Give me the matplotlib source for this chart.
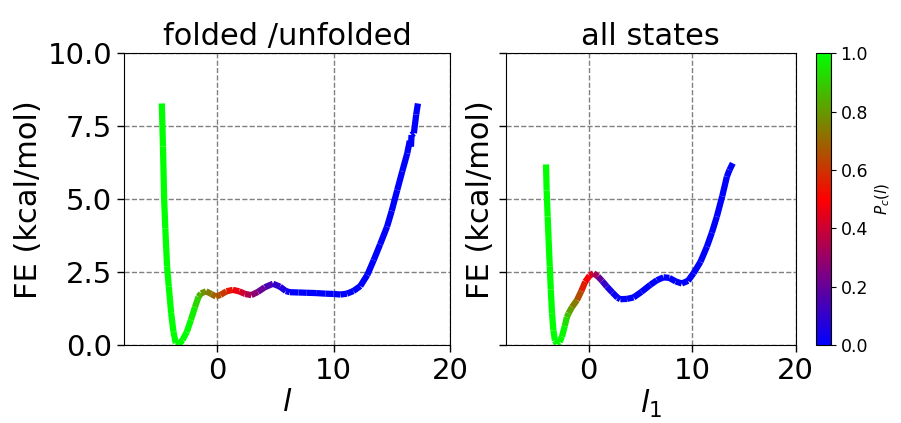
import numpy as np
import matplotlib
matplotlib.use('Agg')
from matplotlib import pyplot as plt
from matplotlib.collections import LineCollection
from matplotlib.colors import LinearSegmentedColormap, Normalize

# folded / unfolded profile: reaction coordinate, free energy, committor
left_l = [-4.75, -4.65, -4.55, -4.45, -4.3, -4.15, -3.95, -3.75, -3.55, -3.3,
          -2.97, -2.6, -2.25, -1.9, -1.6, -1.38, -0.95, -0.5, -0.1, 0.3,
          0.8, 1.35, 1.9, 2.4, 2.94, 3.5, 4.1, 4.8, 5.4, 5.9,
          6.25, 7.0, 7.7, 8.5, 9.3, 10.0, 10.6, 11.15, 11.7, 12.3,
          12.9, 13.45, 14.0, 14.6, 15.0, 15.47, 15.9, 16.33, 16.55, 16.65,
          16.7, 16.9, 17.1, 17.25]
left_fe = [8.28, 6.8, 5.0, 4.0, 2.7, 2.0, 1.1, 0.45, 0.06, 0.02,
           0.17, 0.45, 0.86, 1.3, 1.65, 1.77, 1.84, 1.75, 1.66, 1.72,
           1.84, 1.89, 1.84, 1.75, 1.71, 1.82, 1.98, 2.1, 2.0, 1.85,
           1.81, 1.8, 1.79, 1.78, 1.76, 1.75, 1.73, 1.76, 1.85, 2.02,
           2.4, 2.91, 3.45, 4.06, 4.6, 5.31, 5.95, 6.57, 7.0, 6.8,
           7.2, 7.26, 7.9, 8.28]
left_pc = [1, 1, 1, 1, 1, 1, 1, 1, 1, 1,
           1, 1, 0.98, 0.95, 0.88, 0.82, 0.76, 0.72, 0.68, 0.64,
           0.58, 0.5, 0.45, 0.38, 0.32, 0.24, 0.18, 0.12, 0.08, 0.04,
           0, 0, 0, 0, 0, 0, 0, 0, 0, 0,
           0, 0, 0, 0, 0, 0, 0, 0, 0, 0,
           0, 0, 0, 0]

# all states profile
right_l = [-4.11, -4.05, -3.95, -3.86, -3.75, -3.65, -3.53, -3.4, -3.25, -3.05,
           -2.8, -2.57, -2.3, -2.1, -1.93, -1.6, -1.12, -0.7, -0.32, 0.1,
           0.48, 0.9, 1.3, 1.77, 2.3, 2.8, 3.06, 3.7, 4.34, 5.1,
           5.95, 6.6, 7.23, 7.8, 8.4, 9.0, 9.6, 10.13, 10.8, 11.42,
           11.9, 12.38, 12.9, 13.35, 13.6, 13.92]
right_fe = [6.19, 5.3, 4.4, 3.6, 2.7, 1.9, 1.09, 0.5, 0.15, 0.04,
            0.1, 0.29, 0.65, 0.95, 1.09, 1.3, 1.54, 1.85, 2.17, 2.38,
            2.46, 2.35, 2.2, 2.0, 1.8, 1.62, 1.57, 1.58, 1.63, 1.82,
            2.06, 2.22, 2.32, 2.3, 2.18, 2.11, 2.2, 2.46, 2.85, 3.37,
            3.85, 4.4, 5.1, 5.77, 6.0, 6.23]
right_pc = [1, 1, 1, 1, 1, 1, 1, 1, 1, 1,
            1, 1, 0.97, 0.9, 0.85, 0.78, 0.7, 0.6, 0.52, 0.46,
            0.4, 0.25, 0.15, 0.07, 0.03, 0.01, 0, 0, 0, 0,
            0, 0, 0, 0, 0, 0, 0, 0, 0, 0,
            0, 0, 0, 0, 0, 0]

cmap = LinearSegmentedColormap.from_list('bgr', ['blue', 'red', 'lime'])
norm = Normalize(0, 1)


def colored_line(ax, x, y, c):
    pts = np.column_stack([x, y]).reshape(-1, 1, 2)
    segs = np.concatenate([pts[:-1], pts[1:]], axis=1)
    cvals = (np.array(c[:-1]) + np.array(c[1:])) / 2
    lc = LineCollection(segs, cmap=cmap, norm=norm, linewidth=4.5, capstyle='butt')
    lc.set_array(cvals)
    ax.add_collection(lc)
    return lc


def style_axes(ax, xlabel, title, ypad):
    ax.set_xlim(-8, 20)
    ax.set_ylim(0, 10)
    ax.set_xticks([0, 10, 20])
    ax.set_yticks([0, 2.5, 5.0, 7.5, 10.0])
    ax.grid(True, color='gray', linestyle='--', linewidth=1)
    ax.tick_params(labelsize=21, length=5, width=1)
    ax.set_xlabel(xlabel, fontsize=22, labelpad=2)
    ax.set_ylabel('FE (kcal/mol)', fontsize=22, labelpad=ypad)
    ax.set_title(title, fontsize=22)


fig = plt.figure(figsize=(9.01, 4.23), dpi=100)
ax1 = fig.add_axes([0.1376, 0.1844, 0.3618, 0.6896])
ax2 = fig.add_axes([0.5613, 0.1844, 0.3219, 0.6896])
cax = fig.add_axes([0.9057, 0.1844, 0.0163, 0.6896])

colored_line(ax1, left_l, left_fe, left_pc)
lc = colored_line(ax2, right_l, right_fe, right_pc)

style_axes(ax1, '$l$', 'folded /unfolded', 3)
style_axes(ax2, '$l_1$', 'all states', -1)
ax1.set_yticklabels(['0.0', '2.5', '5.0', '7.5', '10.0'])
ax2.set_yticklabels([])

cb = fig.colorbar(lc, cax=cax)
cb.set_ticks([0, 0.2, 0.4, 0.6, 0.8, 1.0])
cb.ax.tick_params(labelsize=12.5)
cb.set_label('$P_c(l)$', fontsize=11)

plt.savefig('out.png', dpi=100)
